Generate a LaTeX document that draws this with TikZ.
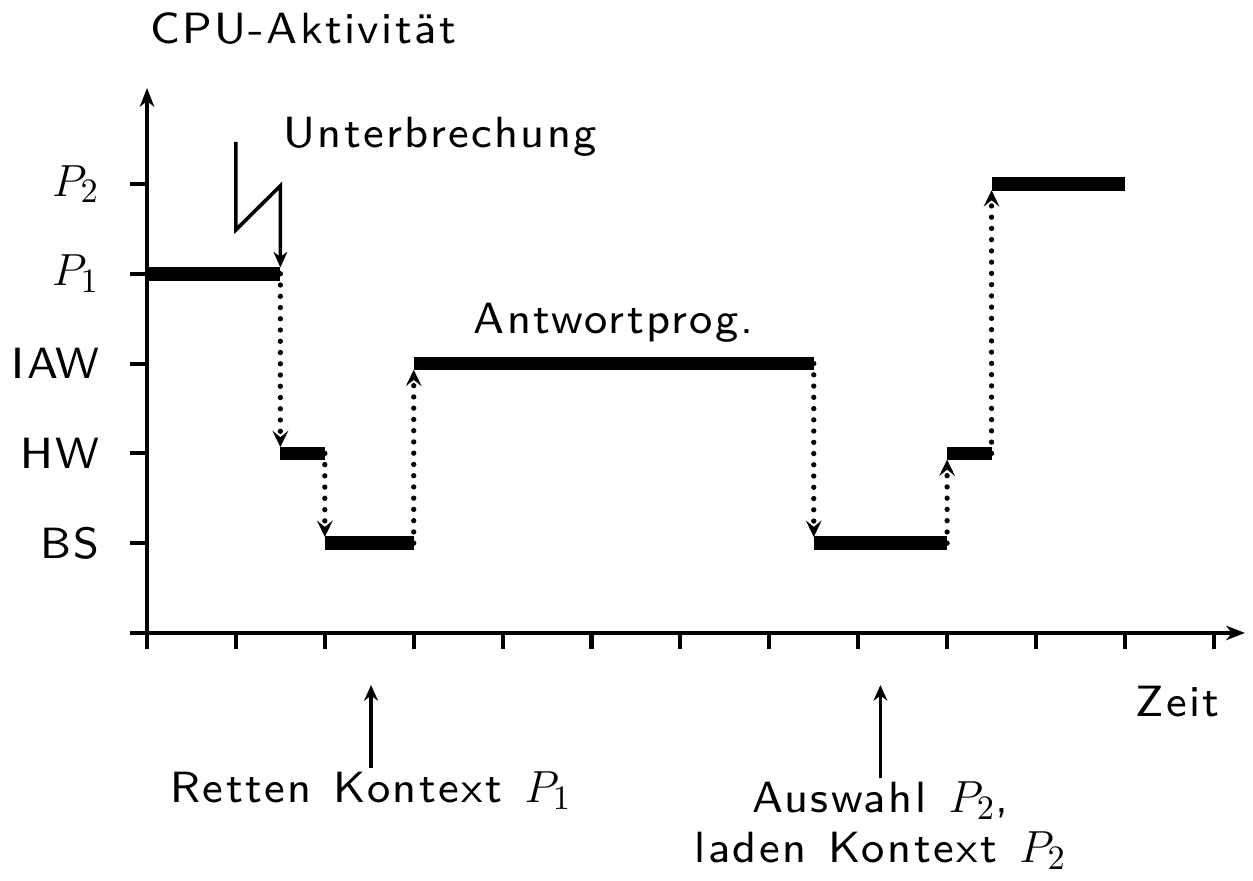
\documentclass[tikz,border=0pt]{standalone}
\usepackage{fontspec}
\setsansfont{lmsans8-regular}[Extension=.otf,LetterSpace=5.5,WordSpace=1.25]
\DeclareMathSizes{14}{14}{11}{8}
\usetikzlibrary{arrows.meta}
\begin{document}
\begin{tikzpicture}[x=1cm,y=1.01cm,
  font=\fontsize{14}{17}\selectfont\sffamily,
  axis/.style={line width=1.3pt},
  axistip/.style={-{Stealth[length=6pt,width=4.6pt,inset=1.8pt]}},
  bar/.style={line width=4.3pt},
  thinline/.style={line width=1.15pt},
  dotarrow/.style={line width=1.7pt, line cap=round, dash pattern=on 0pt off 3.6pt,
     -{Stealth[length=5.2pt,width=5pt,inset=2pt]}},
  lbl/.style={inner sep=0pt},
]
\useasboundingbox (-1.654cm,-2.790cm) rectangle (12.441cm,7.120cm);

% axes
\coordinate (ybot) at (0,-0.18);
\coordinate (ytop) at (0,6.07);
\coordinate (xl) at (-0.19,0);
\coordinate (xr) at (12.35,0);
\draw[axis,axistip] (ybot) -- (ytop);
\draw[axis,axistip] (xl) -- (xr);
\foreach \i in {0,...,12} \draw[axis] (\i,0) -- (\i,-0.18);
\foreach \l in {1,...,5} \draw[axis] (-0.19,\l) -- (0,\l);

% level labels
\node[lbl,anchor=east] (lbs)  at (-0.53,1) {BS};
\node[lbl,anchor=east] (lhw)  at (-0.53,2) {HW};
\node[lbl,anchor=east] (liaw) at (-0.53,3) {IAW};
\node[lbl,anchor=east] (lp1)  at (-0.53,4) {$P_1$};
\node[lbl,anchor=east] (lp2)  at (-0.53,5) {$P_2$};

% bar end points
\coordinate (p1a) at (0,4);    \coordinate (p1b) at (1.5,4);
\coordinate (hw1a) at (1.5,2); \coordinate (hw1b) at (2,2);
\coordinate (bs1a) at (2,1);   \coordinate (bs1b) at (3,1);
\coordinate (iawa) at (3,3);   \coordinate (iawb) at (7.5,3);
\coordinate (bs2a) at (7.5,1); \coordinate (bs2b) at (9,1);
\coordinate (hw2a) at (9,2);   \coordinate (hw2b) at (9.5,2);
\coordinate (p2a) at (9.5,5);  \coordinate (p2b) at (11,5);

% bars
\draw[bar] (p1a) -- (p1b);
\draw[bar] (hw1a) -- (hw1b);
\draw[bar] (bs1a) -- (bs1b);
\draw[bar] (iawa) -- (iawb);
\draw[bar] (bs2a) -- (bs2b);
\draw[bar] (hw2a) -- (hw2b);
\draw[bar] (p2a) -- (p2b);

% dotted transitions
\draw[dotarrow] (p1b) -- ([yshift=2pt]hw1a);
\draw[dotarrow] (hw1b) -- ([yshift=2pt]bs1a);
\draw[dotarrow] (bs1b) -- ([yshift=-2pt]iawa);
\draw[dotarrow] (iawb) -- ([yshift=2pt]bs2a);
\draw[dotarrow] (bs2b) -- ([yshift=-2pt]hw2a);
\draw[dotarrow] (hw2b) -- ([yshift=-2pt]p2a);

% interrupt lightning
\coordinate (l1) at (1,5.47);
\coordinate (l2) at (1,4.49);
\coordinate (l3) at (1.5,4.98);
\draw[thinline,-{Stealth[length=5pt,width=4.4pt,inset=1.6pt]}] (l1) -- (l2) -- (l3) -- ([yshift=2pt]p1b);

% texts
\node[lbl,anchor=base west] (cpu) at (0.03,6.57) {CPU-Aktivität};
\node[lbl,anchor=base west] (unt) at (1.53,5.41) {Unterbrechung};
\node[lbl,anchor=base west] (ant) at (3.67,3.34) {Antwortprog.};
\node[lbl,anchor=base west] (zeit) at (11.11,-0.935) {Zeit};
\node[lbl,anchor=base,inner sep=1pt] (ret) at (2.52,-1.893) {Retten Kontext $P_1$};
\node[lbl,anchor=base,inner sep=1pt] (aus) at (8.25,-2.005) {Auswahl $P_2$,};
\node[lbl,anchor=base] (lad) at (8.25,-2.56) {laden Kontext $P_2$};

\coordinate (rt) at (2.52,-0.58);
\coordinate (at) at (8.25,-0.58);
\draw[thinline,-{Stealth[length=5pt,width=4.4pt,inset=1.6pt]}] (ret.north) -- (rt);
\draw[thinline,-{Stealth[length=5pt,width=4.4pt,inset=1.6pt]}] (aus.north) -- (at);
\end{tikzpicture}
\end{document}
